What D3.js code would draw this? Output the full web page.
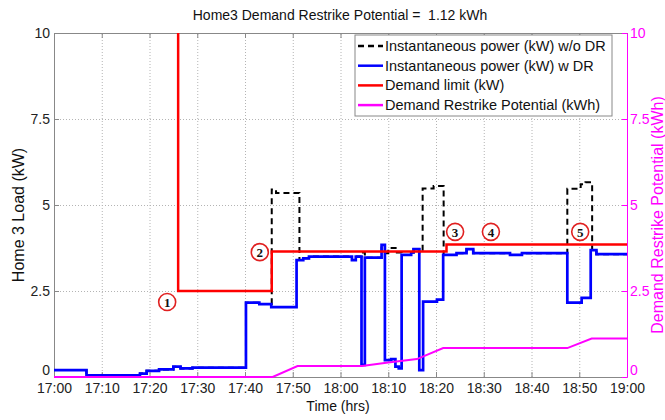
<!DOCTYPE html>
<html>
<head>
<meta charset="utf-8">
<script src="https://cdn.jsdelivr.net/npm/d3@7"></script>
<style>
	body { margin: 0; background: #fff; }
	svg { font-family: "Liberation Sans", Arial, sans-serif; }
	.grid line { stroke: #b4b4b4; stroke-width: 1; stroke-dasharray: 1,2; }
	.grid path { display: none; }
</style>
</head>
<body>
<svg width="665" height="420"></svg>
<script>
const title = "Home3 Demand Restrike Potential =  1.12 kWh";
const xLabel = "Time (hrs)";
const leftLabel = "Home 3 Load (kW)";
const rightLabel = "Demand Restrike Potential (kWh)";
const seriesNames = [
	"Instantaneous power (kW) w/o DR",
	"Instantaneous power (kW) w DR",
	"Demand limit (kW)",
	"Demand Restrike Potential (kWh)"
];
const yTicks = [0, 2.5, 5, 7.5, 10];

// [minutes after 17:00, value] -- step values hold until the next point
const powerNoDR = [
	[0, 0.2], [6.8, 0.05], [18, 0.1], [19.4, 0.18], [22, 0.22], [25, 0.3], [26.5, 0.25], [29, 0.27],
	[40.2, 2.16], [43, 2.12], [45.6, 5.45], [46.5, 5.35], [51.4, 3.4], [52.2, 3.45], [53.4, 3.5],
	[62.4, 3.4], [63.2, 3.5], [64.4, 3.62], [65.1, 3.47], [68.6, 3.84], [69.3, 3.6], [70, 3.75],
	[71.8, 3.62], [72.8, 3.55], [74.8, 3.62], [75.3, 3.72], [76.5, 3.62], [77.2, 5.48], [79.5, 5.55],
	[81.6, 3.55], [84.3, 3.6], [86.4, 3.72], [87.8, 3.6], [95.5, 3.55], [98, 3.6], [107.5, 5.47],
	[110.3, 5.6], [111.3, 5.66], [112.7, 3.69], [113.6, 3.57], [120, 3.57]
];
const powerDR = [
	[0, 0.2], [6.8, 0.05], [18, 0.1], [19.4, 0.18], [22, 0.22], [25, 0.3], [26.5, 0.25], [29, 0.27],
	[40.2, 2.16], [43, 2.12], [45.5, 2.03], [50.8, 3.4], [52.2, 3.45], [53.4, 3.5], [62.4, 3.4],
	[63.2, 3.5], [64.4, 0.35], [65.1, 3.47], [68.6, 3.84], [69.3, 0.49], [70.6, 0.52], [71.5, 0.3],
	[72.2, 0.25], [72.8, 3.55], [74.8, 3.62], [75.3, 3.72], [76.5, 0.2], [77.3, 2.19], [80.2, 2.25],
	[81.5, 3.55], [84.3, 3.6], [86.4, 3.72], [87.8, 3.6], [95.5, 3.55], [98, 3.6], [107.5, 2.16],
	[110.5, 2.3], [112.4, 3.69], [113.6, 3.57], [120, 3.57]
];
const demandLimit = [[26, 10], [26, 2.5], [45.6, 3.65], [82.2, 3.85], [120, 3.85]];
// linear, kWh
const restrike = [
	[0, 0], [45.8, 0], [51, 0.32], [64.5, 0.32], [70, 0.42], [76, 0.52], [81.5, 0.84],
	[107.5, 0.84], [112.6, 1.12], [120, 1.12]
];
// circled event markers
const markerLabels = ["1", "2", "3", "4", "5"];
const markerTimes = [23.7, 43.1, 84, 91.5, 110.2];
const markerValues = [2.18, 3.63, 4.22, 4.22, 4.22];

const svg = d3.select("svg");
const t0 = new Date(2000, 0, 1, 17, 0);
const toDate = (m) => new Date(t0.getTime() + m * 60000);

const plotL = 54, plotR = 627, plotT = 33, plotB = 377;
const x = d3.scaleTime().domain([toDate(0), toDate(120)]).range([plotL, plotR]);
const y = d3.scaleLinear().domain([0, 10]).range([plotB, plotT]);
const y2 = d3.scaleLinear().domain([0, 10]).range([plotB, plotT]);
const xTicks = d3.timeMinute.every(10).range(toDate(0), toDate(121));

// grid
svg.append("g").attr("class", "grid")
	.attr("transform", `translate(0,${plotB})`)
	.call(d3.axisBottom(x).tickValues(xTicks).tickSize(-(plotB - plotT)).tickFormat(""));
svg.append("g").attr("class", "grid")
	.attr("transform", `translate(${plotL},0)`)
	.call(d3.axisLeft(y).tickValues(yTicks).tickSize(-(plotR - plotL)).tickFormat(""));

// lines sitting on 0 or 10 stay fully visible, like matlab
svg.append("defs").append("clipPath").attr("id", "plot")
	.append("rect").attr("x", plotL).attr("y", plotT - 2).attr("width", plotR - plotL).attr("height", plotB - plotT + 4);

const step = d3.line().x((d) => x(toDate(d[0]))).y((d) => y(d[1])).curve(d3.curveStepAfter);
const lin = d3.line().x((d) => x(toDate(d[0]))).y((d) => y2(d[1]));

// axes
const styleAxis = (g, color) => {
	g.selectAll("path, line").attr("stroke", color);
	g.selectAll("text").attr("fill", color).attr("font-size", 14);
};
const numFmt = (d) => String(d);
const liftZero = (g) => g.selectAll("text").filter((d) => d === 0).attr("dy", "-0.15em");
svg.append("g").attr("transform", `translate(0,${plotB})`)
	.call(d3.axisBottom(x).tickValues(xTicks).tickSize(-5).tickSizeOuter(0).tickPadding(6)
		.tickFormat(d3.timeFormat("%H:%M")))
	.call((g) => styleAxis(g, "#222"))
	.call((g) => g.selectAll("path, line").attr("stroke", "#888"));
svg.append("g").attr("transform", `translate(0,${plotT})`)
	.call(d3.axisTop(x).tickValues(xTicks).tickSize(-5).tickSizeOuter(0).tickFormat(""))
	.call((g) => styleAxis(g, "#888"));
svg.append("g").attr("transform", `translate(${plotL},0)`)
	.call(d3.axisLeft(y).tickValues(yTicks).tickSize(-5).tickSizeOuter(0).tickPadding(4).tickFormat(numFmt))
	.call((g) => styleAxis(g, "#222"))
	.call((g) => g.selectAll("path, line").attr("stroke", "#888"))
	.call(liftZero);
svg.append("g").attr("transform", `translate(${plotR},0)`)
	.call(d3.axisRight(y2).tickValues(yTicks).tickSize(-5).tickSizeOuter(0).tickPadding(3).tickFormat(numFmt))
	.call((g) => styleAxis(g, "#ff00ff"))
	.call(liftZero);

const plot = svg.append("g").attr("clip-path", "url(#plot)");
plot.append("path").datum(powerNoDR).attr("d", step)
	.attr("fill", "none").attr("stroke", "#000").attr("stroke-width", 2).attr("stroke-dasharray", "6,4");
plot.append("path").datum(powerDR).attr("d", step)
	.attr("fill", "none").attr("stroke", "#0000ff").attr("stroke-width", 2.7);
plot.append("path").datum(demandLimit).attr("d", step)
	.attr("fill", "none").attr("stroke", "#ff0000").attr("stroke-width", 2.5);
plot.append("path").datum(restrike).attr("d", lin)
	.attr("fill", "none").attr("stroke", "#ff00ff").attr("stroke-width", 2);

// markers
const markers = svg.append("g").selectAll("g").data(markerLabels).join("g")
	.attr("transform", (d, i) => `translate(${x(toDate(markerTimes[i]))},${y(markerValues[i])})`);
markers.append("circle").attr("r", 8.5).attr("fill", "#fff").attr("stroke", "#e02020").attr("stroke-width", 1.6);
markers.append("text").text((d) => d).attr("text-anchor", "middle").attr("dy", "0.36em")
	.attr("font-family", "'Liberation Serif', 'Times New Roman', serif").attr("font-weight", "bold")
	.attr("font-size", 13).attr("fill", "#111");

// legend
const colors = ["#000", "#0000ff", "#ff0000", "#ff00ff"];
const legend = svg.append("g").attr("transform", "translate(355,35)");
legend.append("rect").attr("width", 257).attr("height", 81).attr("fill", "#fff").attr("stroke", "#888");
const rows = legend.selectAll("g").data(seriesNames).join("g")
	.attr("transform", (d, i) => `translate(0,${11 + i * 19.7})`);
rows.append("line").attr("x1", 3).attr("x2", 28)
	.attr("stroke", (d, i) => colors[i]).attr("stroke-width", 2.5)
	.attr("stroke-dasharray", (d, i) => (i === 0 ? "6,4" : null));
rows.append("text").text((d) => d).attr("x", 30).attr("dy", "0.35em").attr("font-size", 14.5).attr("fill", "#111");

// titles
svg.append("text").text(title).attr("x", 340).attr("y", 20).attr("text-anchor", "middle")
	.attr("font-size", 14).attr("fill", "#111").style("white-space", "pre");
svg.append("text").text(xLabel).attr("x", 338).attr("y", 411).attr("text-anchor", "middle")
	.attr("font-size", 14).attr("fill", "#111");
svg.append("text").text(leftLabel).attr("transform", "translate(24,215) rotate(-90)")
	.attr("text-anchor", "middle").attr("font-size", 16).attr("fill", "#111");
svg.append("text").text(rightLabel).attr("transform", "translate(663,215) rotate(-90)")
	.attr("text-anchor", "middle").attr("font-size", 16).attr("fill", "#ff00ff");
</script>
</body>
</html>
